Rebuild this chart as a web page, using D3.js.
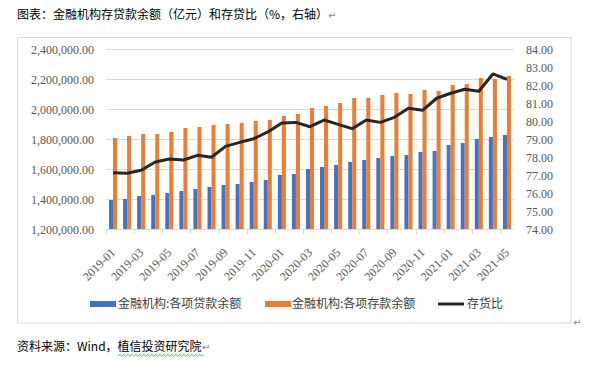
<!DOCTYPE html>
<html><head><meta charset="utf-8">
<script src="https://cdn.jsdelivr.net/npm/d3@7/dist/d3.min.js"></script>
<style>
html,body{margin:0;padding:0;background:#fff;}
svg{display:block;}
</style></head>
<body>
<svg id="c" width="589" height="370"></svg>
<script>
const categories = ["2019-01","2019-02","2019-03","2019-04","2019-05","2019-06","2019-07","2019-08","2019-09","2019-10","2019-11","2019-12",
"2020-01","2020-02","2020-03","2020-04","2020-05","2020-06","2020-07","2020-08","2020-09","2020-10","2020-11","2020-12",
"2021-01","2021-02","2021-03","2021-04","2021-05"];
const loans = [1395300,1402000,1422000,1428700,1442000,1455300,1468700,1482000,1495300,1502000,1515300,1528700,
1562000,1568700,1602000,1615300,1628700,1648700,1662000,1675300,1688700,1695300,1715300,1722000,
1762000,1775300,1802000,1815300,1828700];
const deposits = [1808700,1822000,1835300,1835300,1848700,1875300,1882000,1895300,1902000,1908700,1922000,1928700,
1955300,1968700,2008700,2022000,2042000,2075300,2075300,2095300,2108700,2102000,2128700,2122000,
2162000,2168700,2208700,2202000,2222000];
const ratio = [77.14,77.11,77.28,77.74,77.91,77.85,78.11,78.00,78.61,78.83,79.03,79.41,
79.91,79.94,79.70,80.07,79.83,79.59,80.07,79.94,80.22,80.72,80.61,81.28,
81.56,81.78,81.67,82.63,82.33];
const leftTicks = [1200000,1400000,1600000,1800000,2000000,2200000,2400000];
const rightTicks = [74,75,76,77,78,79,80,81,82,83,84];
const seriesNames = ["金融机构:各项贷款余额","金融机构:各项存款余额","存货比"];
const titleText = "图表：金融机构存贷款余额（亿元）和存贷比（%，右轴）";
const sourceText1 = "资料来源：Wind，";
const sourceText2 = "植信投资研究院";

const svg = d3.select("#c");
const L = 106, R = 514, T = 49.3, B = 229.3;
const blue = "#4472c4", orange = "#ed7d31", lineCol = "#262626", grid = "#d9d9d9", txt = "#595959";
const serif = "'Liberation Serif','Times New Roman',serif";
const cjk = "'Noto Sans CJK SC','Noto Sans CJK JP',sans-serif";

// chart frame
svg.append("rect").attr("x",17.5).attr("y",37.5).attr("width",553.5).attr("height",285.5)
  .attr("fill","none").attr("stroke",grid).attr("stroke-width",1);

const x = d3.scaleBand().domain(categories).range([L,R]).padding(0);
const yL = d3.scaleLinear().domain([1200000,2400000]).range([B,T]);
const yR = d3.scaleLinear().domain([74,84]).range([B,T]);

// gridlines
svg.append("g").selectAll("line").data(leftTicks.slice(1)).join("line")
  .attr("x1",L).attr("x2",R).attr("y1",d=>Math.round(yL(d))+0.5).attr("y2",d=>Math.round(yL(d))+0.5)
  .attr("stroke",grid).attr("stroke-width",1);

// left axis
const gl = svg.append("g").attr("transform",`translate(${L-12},0)`)
  .call(d3.axisLeft(yL).tickValues(leftTicks).tickFormat(d3.format(",.2f")).tickSize(0).tickPadding(0));
gl.select(".domain").remove();
gl.selectAll("text").attr("font-family",serif).attr("font-size",12).attr("fill",txt);

// right axis
const gr = svg.append("g").attr("transform",`translate(${R+12},0)`)
  .call(d3.axisRight(yR).tickValues(rightTicks).tickFormat(d3.format(".2f")).tickSize(0).tickPadding(0));
gr.select(".domain").remove();
gr.selectAll("text").attr("font-family",serif).attr("font-size",12).attr("fill",txt);

// bars
const bw = x.bandwidth()*4/14;
svg.append("g").selectAll("rect").data(categories).join("rect")
  .attr("x",(d)=>x(d)+x.bandwidth()/2-bw).attr("width",bw)
  .attr("y",(d,i)=>yL(loans[i])).attr("height",(d,i)=>B-yL(loans[i])).attr("fill",blue);
svg.append("g").selectAll("rect").data(categories).join("rect")
  .attr("x",(d)=>x(d)+x.bandwidth()/2).attr("width",bw)
  .attr("y",(d,i)=>yL(deposits[i])).attr("height",(d,i)=>B-yL(deposits[i])).attr("fill",orange);

// bottom axis line + ticks
svg.append("line").attr("x1",L).attr("x2",R).attr("y1",Math.round(B)+0.5).attr("y2",Math.round(B)+0.5)
  .attr("stroke",grid);
const tickCats = categories.filter((d,i)=>i%2===0);
svg.append("g").selectAll("line").data(tickCats).join("line")
  .attr("x1",d=>Math.round(x(d))+0.5).attr("x2",d=>Math.round(x(d))+0.5)
  .attr("y1",B).attr("y2",B+5).attr("stroke",grid);
const gx = svg.append("g").attr("transform",`translate(0,${B})`)
  .call(d3.axisBottom(x).tickValues(tickCats).tickSize(0).tickPadding(0));
gx.select(".domain").remove();
gx.selectAll("text").attr("font-family",serif).attr("font-size",12).attr("fill",txt)
  .attr("text-anchor","end").attr("dy",null).attr("y",0)
  .attr("transform","translate(3,24) rotate(-45)");

// line
const line = d3.line().x((d,i)=>x(categories[i])+x.bandwidth()/2).y(d=>yR(d));
svg.append("path").datum(ratio).attr("d",line).attr("fill","none")
  .attr("stroke",lineCol).attr("stroke-width",3).attr("stroke-linejoin","round");

// legend
const ly = 304;
const leg = svg.append("g");
leg.append("rect").attr("x",90).attr("y",ly-3).attr("width",26).attr("height",6).attr("fill",blue);
leg.append("text").attr("x",118).attr("y",ly).attr("dy","0.36em").text(seriesNames[0]);
leg.append("rect").attr("x",265).attr("y",ly-3).attr("width",26).attr("height",6).attr("fill",orange);
leg.append("text").attr("x",292).attr("y",ly).attr("dy","0.36em").text(seriesNames[1]);
leg.append("line").attr("x1",438).attr("x2",464).attr("y1",ly).attr("y2",ly).attr("stroke",lineCol).attr("stroke-width",3);
leg.append("text").attr("x",467).attr("y",ly).attr("dy","0.36em").text(seriesNames[2]);
leg.selectAll("text").attr("font-family",cjk).attr("font-size",12).attr("fill","#404040");

// title
const t = svg.append("text").attr("x",17).attr("y",15).attr("dy","0.36em")
  .attr("font-family",cjk).attr("font-size",12).attr("fill","#000");
t.append("tspan").text(titleText);
t.append("tspan").attr("fill","#888").attr("font-family","'DejaVu Sans'").attr("font-size",10).text("↵");

// source
const s = svg.append("text").attr("x",17).attr("y",347).attr("dy","0.36em")
  .attr("font-family",cjk).attr("font-size",12).attr("fill","#000");
s.append("tspan").text(sourceText1);
s.append("tspan").attr("id","src2").text(sourceText2);
s.append("tspan").attr("fill","#888").attr("font-family","'DejaVu Sans'").attr("font-size",10).text("↵");

// wavy underline under second part
const box = document.getElementById("src2").getBBox();
let wd = "M"+box.x+","+356;
for(let xx=box.x, k=0; xx<box.x+box.width; xx+=2, k++){ wd += " L"+(xx+2)+","+(k%2===0?354.5:356); }
svg.append("path").attr("d",wd).attr("fill","none").attr("stroke","#3a9a3a").attr("stroke-width",0.8);

// paragraph mark at frame corner
svg.append("text").attr("x",573).attr("y",322).attr("dy","0.36em").attr("font-family","'DejaVu Sans'")
  .attr("font-size",10).attr("fill","#888").text("↵");
</script>
</body></html>
